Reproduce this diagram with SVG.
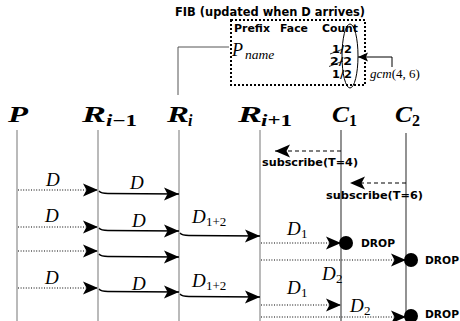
<svg xmlns="http://www.w3.org/2000/svg" width="460" height="321" viewBox="0 0 460 321">
  <style>
    .life { stroke: #8c8c8c; stroke-width: 1.2; fill: none; }
    .lifeC { stroke: #4a4a4a; stroke-width: 1.2; fill: none; }
    .solid { stroke: #000; stroke-width: 1.3; fill: none; marker-end: url(#head); }
    .dot { stroke: #000; stroke-width: 1.2; stroke-dasharray: 1 1.6; fill: none; marker-end: url(#head); }
    .dash { stroke: #000; stroke-width: 1.2; stroke-dasharray: 4 3; fill: none; marker-end: url(#head); }
    .hdr { font-family: "Liberation Serif", serif; font-style: italic; font-weight: bold; font-size: 24px; fill: #000; }
    .hsub { font-family: "Liberation Serif", serif; font-style: italic; font-weight: bold; font-size: 16px; fill: #000; }
    .up { font-style: normal; }
    .math { font-family: "Liberation Serif", serif; font-style: italic; fill: #000; }
    .msub { font-family: "Liberation Serif", serif; font-size: 13px; fill: #000; }
    .lbl { font-family: "DejaVu Sans", sans-serif; font-weight: bold; fill: #000; }
    .drop { fill: #000; }
  </style>
  <defs>
    <marker id="head" viewBox="-16 -7 17 14" refX="0" refY="0" markerWidth="17" markerHeight="14" markerUnits="userSpaceOnUse" orient="auto">
      <path d="M0,0 L-15,-6.5 L-11.5,0 L-15,6.5 Z" fill="#000"/>
    </marker>
    <marker id="small" viewBox="-11 -5 12 10" refX="0" refY="0" markerWidth="12" markerHeight="10" markerUnits="userSpaceOnUse" orient="auto">
      <path d="M0,0 L-10,-4.5 L-8,0 L-10,4.5 Z" fill="#000"/>
    </marker>
  </defs>

  <!-- FIB table -->
  <g id="fib">
    <text class="lbl" x="175" y="16" style="font-size:11.5px" textLength="190" lengthAdjust="spacingAndGlyphs">FIB (updated when D arrives)</text>
    <rect x="231" y="20" width="134" height="65" fill="none" stroke="#000" stroke-width="2" stroke-dasharray="2 2"/>
    <text class="lbl" x="234" y="32" style="font-size:11px" textLength="36" lengthAdjust="spacingAndGlyphs">Prefix</text>
    <text class="lbl" x="280" y="32" style="font-size:11px" textLength="28" lengthAdjust="spacingAndGlyphs">Face</text>
    <text class="lbl" x="322" y="32" style="font-size:11px" textLength="36" lengthAdjust="spacingAndGlyphs">Count</text>
    <text class="math" x="232" y="56" style="font-size:18px">P</text>
    <text class="math" x="245" y="58.5" style="font-size:13.5px">name</text>
    <text class="lbl" x="332" y="52.5" style="font-size:10.5px" textLength="20" lengthAdjust="spacingAndGlyphs">1/2</text>
    <text class="lbl" x="330" y="65" style="font-size:10.5px" textLength="22" lengthAdjust="spacingAndGlyphs">2/2</text>
    <text class="lbl" x="332" y="77.5" style="font-size:10.5px" textLength="20" lengthAdjust="spacingAndGlyphs">1/2</text>
    <line x1="330" y1="54" x2="343" y2="49" stroke="#000" stroke-width="0.8"/>
    <line x1="329" y1="66.5" x2="343" y2="61" stroke="#000" stroke-width="0.8"/>
    <ellipse cx="350" cy="56" rx="8" ry="32" fill="none" stroke="#000" stroke-width="1"/>
    <path d="M392,67 V57 H358" fill="none" stroke="#000" stroke-width="1" marker-end="url(#small)"/>
    <text class="math" x="370" y="78" style="font-size:13px">gcm<tspan class="up">(4, 6)</tspan></text>
  </g>

  <!-- link from FIB to router R_i -->
  <polyline points="229,47 178,47 178,95" fill="none" stroke="#555" stroke-width="1"/>

  <!-- nodes with lifelines -->
  <g id="P">
    <text class="hdr" x="8" y="122" textLength="20" lengthAdjust="spacingAndGlyphs">P</text>
    <line class="life" x1="17" y1="130" x2="17" y2="321"/>
  </g>
  <g id="R_im1">
    <text class="hdr" x="82" y="122" textLength="24" lengthAdjust="spacingAndGlyphs">R</text>
    <text class="hsub" x="106" y="126" textLength="31" lengthAdjust="spacingAndGlyphs">i<tspan class="up">−1</tspan></text>
    <line class="life" x1="98" y1="130" x2="98" y2="321"/>
  </g>
  <g id="R_i">
    <text class="hdr" x="167" y="122" textLength="22" lengthAdjust="spacingAndGlyphs">R</text>
    <text class="hsub" x="188" y="126">i</text>
    <line class="life" x1="179" y1="130" x2="179" y2="321"/>
  </g>
  <g id="R_ip1">
    <text class="hdr" x="238" y="122" textLength="24" lengthAdjust="spacingAndGlyphs">R</text>
    <text class="hsub" x="261" y="126" textLength="31" lengthAdjust="spacingAndGlyphs">i<tspan class="up">+1</tspan></text>
    <line class="life" x1="260" y1="130" x2="260" y2="321"/>
  </g>
  <g id="C1">
    <text class="hdr" x="332" y="122" textLength="17" lengthAdjust="spacingAndGlyphs">C</text>
    <text class="hsub" x="349" y="126"><tspan class="up">1</tspan></text>
    <line class="lifeC" x1="341" y1="130" x2="341" y2="321"/>
  </g>
  <g id="C2">
    <text class="hdr" x="395" y="122" textLength="17" lengthAdjust="spacingAndGlyphs">C</text>
    <text class="hsub" x="412" y="126"><tspan class="up">2</tspan></text>
    <line class="lifeC" x1="406" y1="133" x2="406" y2="321"/>
  </g>

  <!-- messages -->
  <g id="connectors">
    <!-- subscriptions -->
    <line class="dash" x1="341" y1="151" x2="275" y2="151"/>
    <text class="lbl" x="262" y="166" style="font-size:11px" textLength="96" lengthAdjust="spacingAndGlyphs">subscribe(T=4)</text>
    <line class="dash" x1="406" y1="183" x2="350" y2="183"/>
    <text class="lbl" x="326" y="199" style="font-size:11px" textLength="97" lengthAdjust="spacingAndGlyphs">subscribe(T=6)</text>

    <!-- first data -->
    <line class="dot" x1="18" y1="190" x2="98" y2="190"/>
    <text class="math" x="46" y="186" style="font-size:19px">D</text>
    <path class="solid" d="M99,191 Q101,193.5 108,193.5 L179,194"/>
    <text class="math" x="130" y="189" style="font-size:19px">D</text>

    <!-- second data, aggregated -->
    <line class="dot" x1="18" y1="227" x2="98" y2="227"/>
    <text class="math" x="45" y="222" style="font-size:19px">D</text>
    <path class="solid" d="M99,228 Q101,230.5 108,230.5 L179,231"/>
    <text class="math" x="132" y="227" style="font-size:19px">D</text>
    <path class="solid" d="M180,233 Q182,235.5 189,235.5 L260,236"/>
    <text class="math" x="192" y="223" style="font-size:19px">D</text>
    <text class="msub" x="206" y="226">1+2</text>
    <line class="dot" x1="261" y1="243" x2="341" y2="243"/>
    <text class="math" x="287" y="235" style="font-size:19px">D</text>
    <text class="msub" x="301" y="238">1</text>
    <circle class="drop" cx="346" cy="243" r="7"/>
    <text class="lbl" x="361" y="247" style="font-size:11px" textLength="34" lengthAdjust="spacingAndGlyphs">DROP</text>

    <!-- third data -->
    <line class="dot" x1="18" y1="251" x2="98" y2="251"/>
    <path class="solid" d="M99,254 Q101,256.5 108,256.5 L179,257"/>
    <line class="dot" x1="261" y1="260" x2="406" y2="260"/>
    <circle class="drop" cx="411" cy="260" r="7"/>
    <text class="lbl" x="425" y="264" style="font-size:11px" textLength="34" lengthAdjust="spacingAndGlyphs">DROP</text>
    <text class="math" x="322" y="280" style="font-size:19px">D</text>
    <text class="msub" x="336" y="283">2</text>

    <!-- fourth data -->
    <line class="dot" x1="18" y1="288" x2="98" y2="288"/>
    <text class="math" x="45" y="284" style="font-size:19px">D</text>
    <path class="solid" d="M99,289 Q101,291.5 108,291.5 L179,292"/>
    <text class="math" x="132" y="290" style="font-size:19px">D</text>
    <path class="solid" d="M180,294 Q182,296.5 189,296.5 L260,297"/>
    <text class="math" x="192" y="287" style="font-size:19px">D</text>
    <text class="msub" x="206" y="290">1+2</text>
    <line class="dot" x1="261" y1="305" x2="341" y2="305"/>
    <text class="math" x="287" y="294" style="font-size:19px">D</text>
    <text class="msub" x="301" y="297">1</text>
    <line class="dot" x1="261" y1="317" x2="406" y2="317"/>
    <text class="math" x="350" y="312" style="font-size:19px">D</text>
    <text class="msub" x="364" y="315">2</text>
    <circle class="drop" cx="411" cy="316" r="7"/>
    <text class="lbl" x="425" y="318" style="font-size:11px" textLength="34" lengthAdjust="spacingAndGlyphs">DROP</text>
  </g>
</svg>
